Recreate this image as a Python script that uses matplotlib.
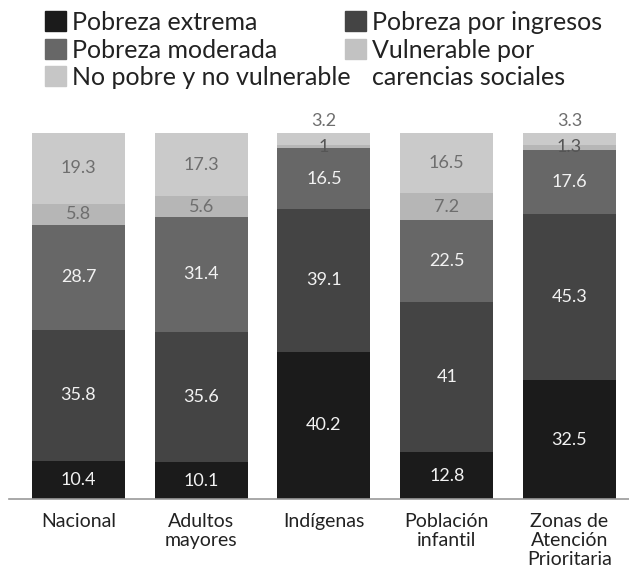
import matplotlib.pyplot as plt
import matplotlib.patches as mpatches
import numpy as np

plt.rcParams["font.family"] = ["Lato", "DejaVu Sans"]

categorias = ["Nacional", "Adultos\nmayores", "Indígenas", "Población\ninfantil",
              "Zonas de\nAtención\nPrioritaria"]

# stacked from the bottom up
extrema = [10.4, 10.1, 40.2, 12.8, 32.5]
ingresos = [35.8, 35.6, 39.1, 41, 45.3]
moderada = [28.7, 31.4, 16.5, 22.5, 17.6]
carencias = [5.8, 5.6, 1, 7.2, 1.3]
no_pobre = [19.3, 17.3, 3.2, 16.5, 3.3]

series = [extrema, ingresos, moderada, carencias, no_pobre]
colores = ["#1b1b1b", "#444444", "#676767", "#b6b6b6", "#cacaca"]
txt_col = ["#f2f2f2", "#f2f2f2", "#f2f2f2", "#6e6e6e", "#6e6e6e"]

leyenda = [("Pobreza extrema", "#1b1b1b"), ("Pobreza por ingresos", "#444444"),
           ("Pobreza moderada", "#676767"), ("Vulnerable por\ncarencias sociales", "#c2c2c2"),
           ("No pobre y no vulnerable", "#c6c6c6")]

fig = plt.figure(figsize=(6.29, 5.67), dpi=100)
ax = fig.add_axes([9/629, 1 - 499/567, 620/629, 366/567])

x = np.arange(len(categorias))
bottom = np.zeros(len(categorias))
for vals, col, tc in zip(series, colores, txt_col):
    vals = np.array(vals, dtype=float)
    ax.bar(x, vals, 0.758, bottom=bottom, color=col, edgecolor="none")
    for i, v in enumerate(vals):
        lab = f"{v:g}"
        if v < 2:
            ax.text(x[i], bottom[i] + v/2, lab, ha="center", va="center",
                    fontsize=13, color="#555555")
        elif v < 4:
            ax.text(x[i], bottom[i] + v + 1.0, lab, ha="center", va="bottom",
                    fontsize=13, color="#6e6e6e", clip_on=False)
        else:
            ax.text(x[i], bottom[i] + v/2, lab, ha="center", va="center",
                    fontsize=13, color=tc)
    bottom += vals

ax.set_xlim(-0.566, 4.485)
ax.set_ylim(0, 100)
for s in ["top", "right", "left"]:
    ax.spines[s].set_visible(False)
ax.spines["bottom"].set_color("#999999")
ax.spines["bottom"].set_linewidth(1.2)
ax.set_yticks([])
ax.set_xticks(x)
ax.set_xticklabels(categorias, fontsize=14, color="#222222", linespacing=1.15)
ax.tick_params(axis="x", length=0, pad=10)

# legend drawn by hand in two columns; (square left, text baseline) in px
pos = [(45, 30), (345, 30), (45, 58), (345, 58), (45, 85)]
for (lab, col), (px, py) in zip(leyenda, pos):
    fx, fy = px/629, 1 - py/567
    fig.patches.append(mpatches.Rectangle((fx, fy - 1/567), 21/629, 20/567,
                                          transform=fig.transFigure, color=col))
    for k, linea in enumerate(lab.split("\n")):
        fig.text(fx + 27/629, fy - 27*k/567, linea, fontsize=18, color="#222222",
                 va="baseline", ha="left")

fig.savefig("out.png", dpi=100)
